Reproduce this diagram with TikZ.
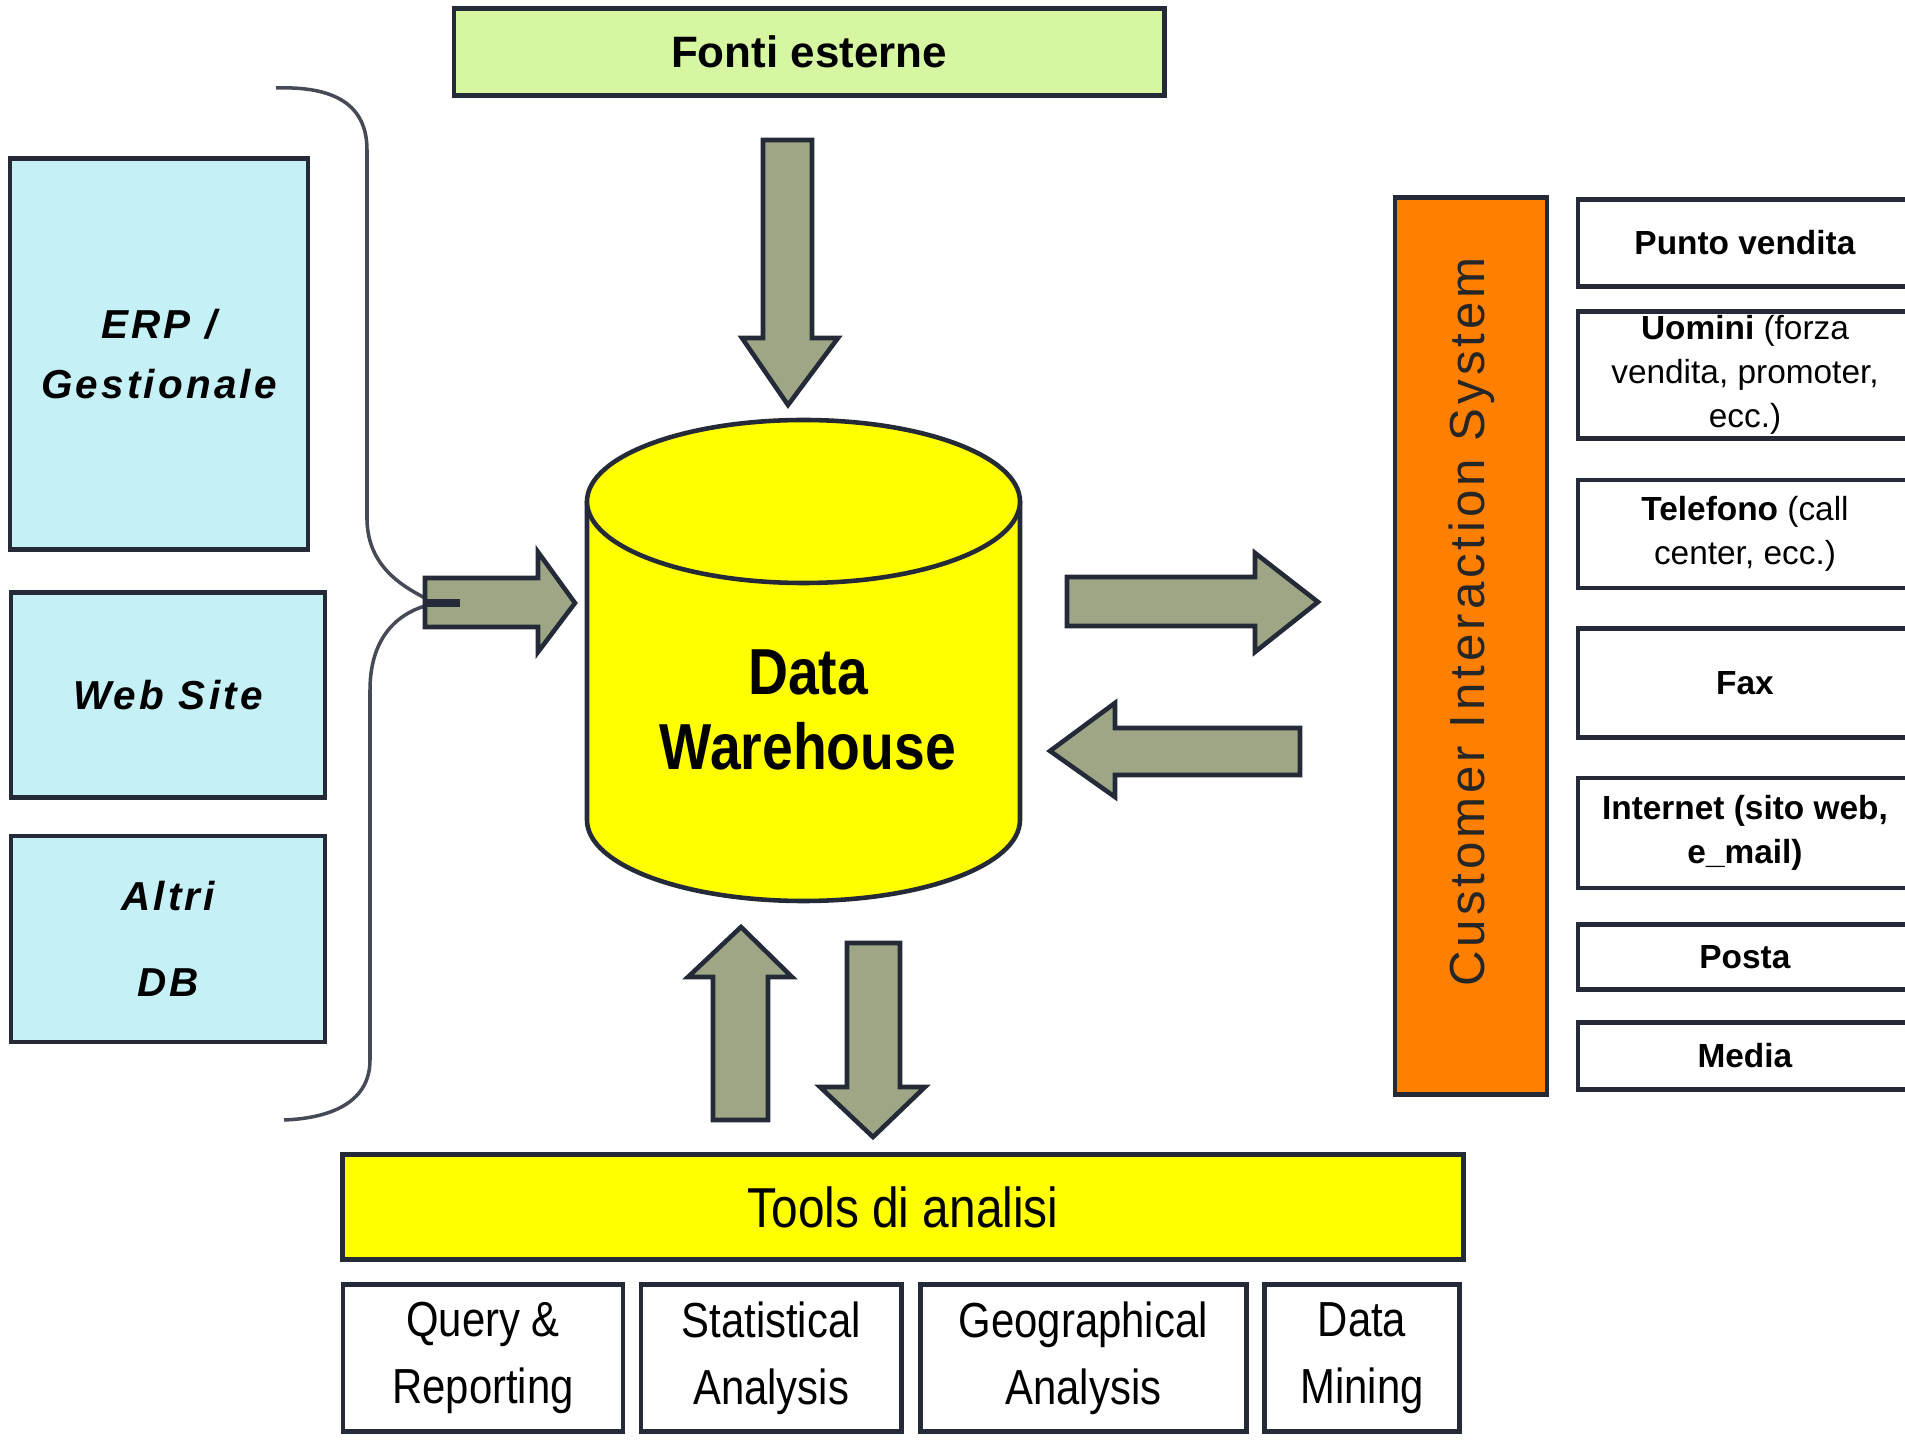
\documentclass[tikz,border=0pt]{standalone}
\usepackage{fontspec}
\setmainfont{Liberation Sans}
\newfontfamily\narrowfont{Liberation Sans}[FakeStretch=0.85]
\newfontfamily\spacedfont{Liberation Sans}[LetterSpace=8]
\definecolor{SrcCyan}{RGB}{196,240,246}
\definecolor{ExtLime}{RGB}{214,246,162}
\definecolor{FlowOlive}{RGB}{158,166,134}
\definecolor{CisOrange}{RGB}{255,128,0}
\definecolor{DWYellow}{RGB}{255,255,0}
\definecolor{EdgeDark}{RGB}{36,42,56}
\usetikzlibrary{positioning}

\begin{document}
\begin{tikzpicture}[x=0.01cm,y=-0.01cm,
  box/.style={draw=EdgeDark,line width=1.3pt,inner sep=0pt,outer sep=0pt,align=center},
  srcbox/.style={box,fill=SrcCyan,font=\spacedfont\fontsize{11.5}{17}\selectfont\bfseries\itshape},
  chanbox/.style={box,fill=white,minimum width=3.34cm,font=\fontsize{9.5}{12.5}\selectfont},
  toolbox/.style={box,fill=white,minimum height=1.47cm,font=\narrowfont\fontsize{14}{19}\selectfont},
  flowarrow/.style={draw=EdgeDark,fill=FlowOlive,line width=1.3pt,line join=miter},
  brace/.style={draw=EdgeDark!85,line width=1pt}]
\useasboundingbox (0,0) rectangle (1905,1440);
% operational sources
\node[srcbox,minimum width=2.98cm,minimum height=3.91cm] (erp) at (159,354) {ERP /\\Gestionale};
\node[srcbox,minimum width=3.14cm,minimum height=2.05cm] (web) at (168,695) {Web Site};
\node[srcbox,minimum width=3.14cm,minimum height=2.06cm] (altri) at (168,939) {Altri\\[7.5pt]DB};
\draw[brace] (276,88) .. controls (335,86) and (367,105) .. (367,150) -- (367,520)
  .. controls (368,565) and (400,585) .. (425,598);
\draw[brace] (425,606) .. controls (395,615) and (370,640) .. (370,690) -- (370,1060)
  .. controls (370,1100) and (335,1118) .. (284,1120);
% external sources
\node[box,fill=ExtLime,minimum width=7.1cm,minimum height=0.87cm,
  font=\fontsize{12.5}{15}\selectfont\bfseries] (fonti) at (809,52) {Fonti esterne};
% the warehouse
\filldraw[draw=EdgeDark,line width=1.3pt,fill=DWYellow] (587,501) -- (587,820)
  .. controls (587,865) and (684,901) .. (803.5,901)
  .. controls (923,901) and (1020,865) .. (1020,820) -- (1020,501);
\filldraw[draw=EdgeDark,line width=1.3pt,fill=DWYellow] (803.5,501.5) ellipse [x radius=216.5, y radius=81.5];
\node[font=\narrowfont\fontsize{18.5}{21.3}\selectfont\bfseries,align=center] (dw) at (808,710) {Data\\Warehouse};
% customer interaction
\node[box,fill=CisOrange,minimum width=1.52cm,minimum height=8.97cm] (cis) at (1471,646) {};
\node[rotate=90,font=\spacedfont\fontsize{14}{16}\selectfont,text=black!85] (cistext) at (1472,622) {Customer Interaction System};
\node[chanbox,minimum height=0.87cm] (punto) at (1745,243) {\textbf{Punto vendita}};
\node[chanbox,minimum height=1.27cm] (uomini) at (1745,375) {\textbf{Uomini} (forza\\vendita, promoter,\\ecc.)};
\node[chanbox,minimum height=1.08cm] (tel) at (1745,534) {\textbf{Telefono} (call\\center, ecc.)};
\node[chanbox,minimum height=1.09cm] (fax) at (1745,683) {\textbf{Fax}};
\node[chanbox,minimum height=1.10cm] (inet) at (1745,833) {\textbf{Internet (sito web,}\\\textbf{e\_mail)}};
\node[chanbox,minimum height=0.65cm] (posta) at (1745,957) {\textbf{Posta}};
\node[chanbox,minimum height=0.67cm] (media) at (1745,1056) {\textbf{Media}};
% analysis tools
\node[box,fill=DWYellow,minimum width=11.2cm,minimum height=1.05cm,
  font=\narrowfont\fontsize{16}{19}\selectfont] (tools) at (903,1207) {Tools di analisi};
\node[toolbox,minimum width=2.80cm] (query) at (483,1358) {Query \&\\Reporting};
\node[toolbox,minimum width=2.60cm,right=0.18cm of query] (stat) {Statistical\\Analysis};
\node[toolbox,minimum width=3.26cm,right=0.19cm of stat] (geo) {Geographical\\Analysis};
\node[toolbox,minimum width=1.95cm,right=0.18cm of geo] (mining) {Data\\Mining};
% flows
\draw[flowarrow] (763,140) -- (812,140) -- (812,338) -- (838,338) -- (788,405) -- (742,338) -- (763,338) -- cycle;
\draw[flowarrow] (425,578) -- (538,578) -- (538,552) -- (575,603) -- (538,652) -- (538,627) -- (425,627) -- cycle;
\draw[flowarrow] (1067,577) -- (1255,577) -- (1255,553) -- (1318,602) -- (1255,652) -- (1255,626) -- (1067,626) -- cycle;
\draw[flowarrow] (1300,728) -- (1115,728) -- (1115,703) -- (1050,751) -- (1115,797) -- (1115,775) -- (1300,775) -- cycle;
\draw[flowarrow] (713,1120) -- (713,977) -- (688,977) -- (741,927) -- (792,977) -- (768,977) -- (768,1120) -- cycle;
\draw[flowarrow] (847,943) -- (900,943) -- (900,1087) -- (925,1087) -- (873,1137) -- (820,1087) -- (847,1087) -- cycle;
\draw[EdgeDark,line width=2.5pt] (425,603) -- (460,603);
\end{tikzpicture}
\end{document}
